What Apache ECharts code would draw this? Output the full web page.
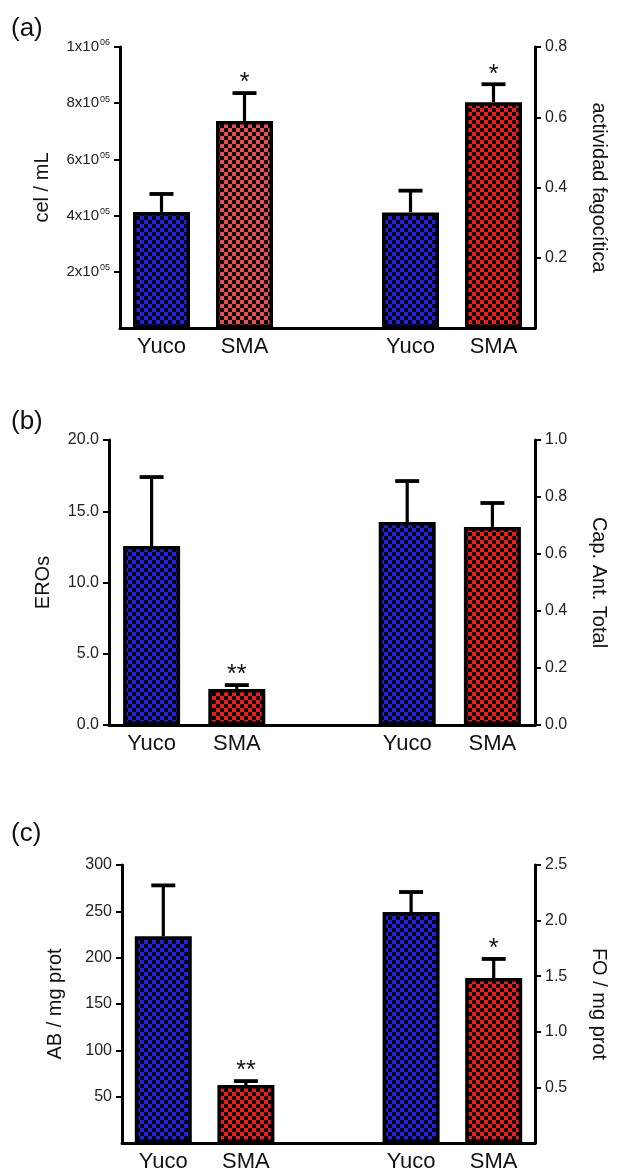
<!DOCTYPE html>
<html><head><meta charset="utf-8">
<script src="https://cdn.jsdelivr.net/npm/echarts@6/dist/echarts.min.js"></script>
<style>html,body{margin:0;padding:0;background:#fff}#c{width:617px;height:1174px}</style>
</head><body><div id="c"></div>
<script>
// ---- data ----
const categories = ['Yuco', 'SMA', '', 'Yuco', 'SMA'];
const leftIdx = [0, 1];
const rightIdx = [3, 4];

// panel (a)
const aLeftMean = [413000, 737000];
const aLeftSem = [64000, 99000];
const aLeftStar = ['', '*'];
const aRightMean = [0.329, 0.643];
const aRightSem = [0.062, 0.051];
const aRightStar = ['', '*'];
const aLeftTicks = [200000, 400000, 600000, 800000, 1000000];
const aRightTicks = [0.2, 0.4, 0.6, 0.8];

// panel (b)
const bLeftMean = [12.56, 2.53];
const bLeftSem = [4.84, 0.27];
const bLeftStar = ['', '**'];
const bRightMean = [0.712, 0.695];
const bRightSem = [0.144, 0.084];
const bRightStar = ['', ''];
const bLeftTicks = [0, 5, 10, 15, 20];
const bRightTicks = [0, 0.2, 0.4, 0.6, 0.8, 1.0];

// panel (c)
const cLeftMean = [223, 62.5];
const cLeftSem = [55, 4.3];
const cLeftStar = ['', '**'];
const cRightMean = [2.077, 1.484];
const cRightSem = [0.18, 0.171];
const cRightStar = ['', '*'];
const cLeftTicks = [50, 100, 150, 200, 250, 300];
const cRightTicks = [0.5, 1.0, 1.5, 2.0, 2.5];

const FONT = '"Liberation Sans", Arial, sans-serif';

function checker(color) {
  const c = document.createElement('canvas');
  c.width = 8; c.height = 8;
  const x = c.getContext('2d');
  x.fillStyle = color; x.fillRect(0, 0, 8, 8);
  x.fillStyle = '#000'; x.fillRect(0, 0, 4, 4); x.fillRect(4, 4, 4, 4);
  return { image: c, repeat: 'repeat' };
}
const BLUE = checker('#1f1ff0');
const RED = checker('#f81818');
const SALMON = checker('#f04a4a');

function barSeries(gi, yi, idx, means, colors) {
  const data = categories.map(() => '-');
  idx.forEach((k, i) => { data[k] = { value: means[i], itemStyle: { color: colors[i] } }; });
  return {
    type: 'bar', xAxisIndex: gi, yAxisIndex: yi, data: data,
    barWidth: 57, barGap: '-100%', z: 2,
    itemStyle: { borderColor: '#000', borderWidth: 3.5 },
    emphasis: { disabled: true }
  };
}

function errSeries(gi, yi, idx, means, sems, stars) {
  return {
    type: 'custom', xAxisIndex: gi, yAxisIndex: yi, z: 5,
    data: idx.map((k, i) => [k, means[i], sems[i]]),
    encode: { x: 0, y: 1 },
    renderItem: function (p, api) {
      const x = api.value(0), m = api.value(1), e = api.value(2);
      const a = api.coord([x, m]);
      const b = api.coord([x, m + e]);
      const ch = [
        { type: 'line', shape: { x1: a[0], y1: a[1], x2: b[0], y2: b[1] }, style: { stroke: '#000', lineWidth: 3.2 } },
        { type: 'line', shape: { x1: b[0] - 12, y1: b[1], x2: b[0] + 12, y2: b[1] }, style: { stroke: '#000', lineWidth: 3.8 } }
      ];
      const s = stars[p.dataIndex];
      if (s) ch.push({ type: 'text', style: { text: s, x: b[0], y: b[1] + 3, align: 'center', verticalAlign: 'bottom', font: '25px ' + FONT, fill: '#111' } });
      return { type: 'group', children: ch };
    }
  };
}

function xAxis(gi) {
  return {
    type: 'category', gridIndex: gi, data: categories,
    axisTick: { show: false },
    axisLine: { lineStyle: { color: '#000', width: 3 } },
    axisLabel: { fontSize: 22, color: '#111', fontFamily: FONT, margin: 8, interval: 0 }
  };
}

function yAxis(gi, pos, min, max, interval, ticks, fmt, name, gap, extraLabel) {
  return {
    type: 'value', gridIndex: gi, position: pos, min: min, max: max, interval: interval,
    splitLine: { show: false },
    axisLine: { show: true, lineStyle: { color: '#000', width: 3 } },
    axisTick: { show: true, length: 6, customValues: ticks, lineStyle: { color: '#000', width: 2 } },
    axisLabel: Object.assign({ fontSize: 16, color: '#222', fontFamily: FONT, margin: 10, formatter: fmt, customValues: ticks }, extraLabel || {}),
    name: name, nameLocation: 'middle', nameGap: gap,
    nameRotate: pos === 'left' ? 90 : -90,
    nameTextStyle: { fontSize: 20, color: '#111', fontFamily: FONT }
  };
}

const sciFmt = v => {
  const exp = v >= 1e6 ? '06' : '05';
  const man = v >= 1e6 ? v / 1e6 : v / 1e5;
  return '{m|' + Math.round(man) + 'x10}{s|' + exp + '}';
};
const sciRich = { rich: {
  m: { fontSize: 15, fontFamily: FONT, color: '#222', lineHeight: 18 },
  s: { fontSize: 9, fontFamily: FONT, color: '#222', lineHeight: 18, padding: [0, 0, 8, 1] }
} };
const dec1 = v => Number(v).toFixed(1);
const int0 = v => String(Math.round(v));

const chart = echarts.init(document.getElementById('c'), null, { renderer: 'canvas' });
chart.setOption({
  animation: false,
  backgroundColor: '#fff',
  grid: [
    { left: 120, top: 47, width: 416, height: 281 },
    { left: 109, top: 440, width: 427, height: 285 },
    { left: 122, top: 865, width: 414, height: 278 }
  ],
  xAxis: [xAxis(0), xAxis(1), xAxis(2)],
  yAxis: [
    yAxis(0, 'left', 0, 1000000, 200000, aLeftTicks, sciFmt, 'cel / mL', 68, sciRich),
    yAxis(0, 'right', 0, 0.8, 0.2, aRightTicks, dec1, 'actividad fagocítica', 54),
    yAxis(1, 'left', 0, 20, 5, bLeftTicks, dec1, 'EROs', 56),
    yAxis(1, 'right', 0, 1.0, 0.2, bRightTicks, dec1, 'Cap. Ant. Total', 54),
    yAxis(2, 'left', 0, 300, 50, cLeftTicks, int0, 'AB / mg prot', 57),
    yAxis(2, 'right', 0, 2.5, 0.5, cRightTicks, dec1, 'FO / mg prot', 54)
  ],
  graphic: [
    { type: 'text', left: 11, top: 16, style: { text: '(a)', font: '26px ' + FONT, fill: '#111' } },
    { type: 'text', left: 11, top: 409, style: { text: '(b)', font: '26px ' + FONT, fill: '#111' } },
    { type: 'text', left: 11, top: 821, style: { text: '(c)', font: '26px ' + FONT, fill: '#111' } }
  ],
  series: [
    barSeries(0, 0, leftIdx, aLeftMean, [BLUE, SALMON]),
    barSeries(0, 1, rightIdx, aRightMean, [BLUE, RED]),
    errSeries(0, 0, leftIdx, aLeftMean, aLeftSem, aLeftStar),
    errSeries(0, 1, rightIdx, aRightMean, aRightSem, aRightStar),
    barSeries(1, 2, leftIdx, bLeftMean, [BLUE, RED]),
    barSeries(1, 3, rightIdx, bRightMean, [BLUE, RED]),
    errSeries(1, 2, leftIdx, bLeftMean, bLeftSem, bLeftStar),
    errSeries(1, 3, rightIdx, bRightMean, bRightSem, bRightStar),
    barSeries(2, 4, leftIdx, cLeftMean, [BLUE, RED]),
    barSeries(2, 5, rightIdx, cRightMean, [BLUE, RED]),
    errSeries(2, 4, leftIdx, cLeftMean, cLeftSem, cLeftStar),
    errSeries(2, 5, rightIdx, cRightMean, cRightSem, cRightStar)
  ]
});
</script>
</body></html>
